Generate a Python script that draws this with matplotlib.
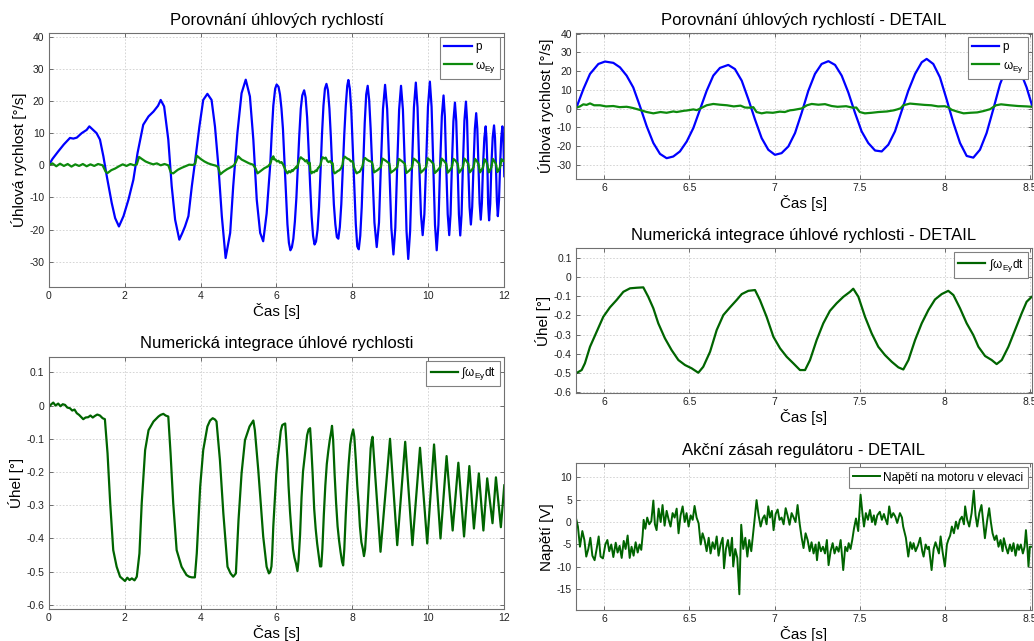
import numpy as np
import matplotlib
matplotlib.use("Agg")
import matplotlib.pyplot as plt
from matplotlib.ticker import FuncFormatter

plt.rcParams['font.family'] = ['Liberation Sans', 'DejaVu Sans']
plt.rcParams['mathtext.fontset'] = 'custom'
plt.rcParams['mathtext.rm'] = 'Liberation Sans'
plt.rcParams['mathtext.it'] = 'Liberation Sans:italic'
plt.rcParams['axes.unicode_minus'] = False

# ---- data ----
# p [deg/s]
p_early = [(0, 0), (0.1, 2.0), (0.25, 4.3), (0.4, 6.5), (0.56, 8.5), (0.65, 8.3), (0.74, 8.6), (0.87, 10.0),
           (1.0, 11.0), (1.07, 12.1), (1.15, 11.2), (1.26, 10.0), (1.35, 8.0), (1.44, 2.8), (1.53, -3.4),
           (1.66, -11.7), (1.75, -16.4), (1.85, -19.0), (1.97, -15.8), (2.10, -10.7), (2.23, -4.5), (2.34, 3.8),
           (2.49, 12.6), (2.63, 15.2), (2.76, 16.7), (2.88, 18.5), (2.95, 20.3), (3.04, 18.3), (3.15, 8.0),
           (3.24, -6.5), (3.33, -16.9), (3.44, -23.1), (3.52, -21.0), (3.59, -19.0), (3.68, -15.8), (3.77, -6.5),
           (3.85, 0.7), (3.97, 12.1), (4.07, 20.3), (4.18, 22.2), (4.29, 20.3), (4.38, 12.0), (4.47, -0.3),
           (4.56, -15.8), (4.66, -28.8), (4.78, -21.0), (4.86, -6.5), (4.97, 10.0), (5.08, 22.4), (5.19, 26.6),
           (5.30, 21.4), (5.39, 8.0), (5.48, -10.7), (5.57, -21.0), (5.65, -23.6), (5.74, -15.0)]
p_detail = [(5.834, 0), (5.877, 10.4), (5.916, 18.5), (5.965, 23.8), (6.004, 25.1), (6.053, 24.4), (6.092, 22.0),
            (6.131, 17.6), (6.17, 11.3), (6.209, 1.4), (6.249, -9.4), (6.288, -18.3), (6.327, -24.1), (6.366, -26.4),
            (6.405, -25.5), (6.444, -22.8), (6.484, -17.5), (6.523, -10.3), (6.562, -0.4), (6.601, 9.5), (6.64, 17.6),
            (6.679, 21.7), (6.728, 23.3), (6.767, 21.1), (6.807, 14.9), (6.846, 5.0), (6.885, -5.8), (6.924, -15.7),
            (6.963, -21.9), (7.002, -24.6), (7.041, -23.7), (7.081, -20.1), (7.12, -13.0), (7.159, -2.2), (7.198, 9.5),
            (7.237, 18.5), (7.276, 23.8), (7.316, 25.3), (7.355, 23.3), (7.394, 17.6), (7.433, 8.6), (7.472, -2.2),
            (7.511, -12.1), (7.55, -18.3), (7.59, -22.3), (7.629, -22.8), (7.668, -19.2), (7.707, -12.1), (7.746, -1.3),
            (7.785, 9.5), (7.825, 18.5), (7.864, 24.7), (7.893, 26.5), (7.932, 23.8), (7.971, 16.7), (8.01, 5.0),
            (8.05, -7.6), (8.089, -18.3), (8.128, -25.2), (8.167, -26.1), (8.206, -21.9), (8.245, -13.0), (8.284, -0.4),
            (8.324, 13.1), (8.363, 22.0), (8.402, 24.7), (8.441, 20.3), (8.48, 11.3), (8.51, 2.3)]
p_late = [(8.52, 0), (8.58, -17.8), (8.64, -25.4), (8.70, -17.8), (8.75, 0), (8.805, 17.5), (8.86, 25.0), (8.915, 17.5),
          (8.97, 0), (9.025, -19.4), (9.08, -27.7), (9.13, -19.4), (9.18, 0), (9.23, 17.3), (9.28, 24.7), (9.33, 17.3),
          (9.38, 0), (9.425, -20.4), (9.47, -29.1), (9.52, -20.4), (9.57, 0), (9.62, 18.0), (9.67, 25.7), (9.715, 18.0),
          (9.76, 0), (9.805, -15.2), (9.85, -21.7), (9.895, -15.2), (9.94, 0), (9.99, 18.2), (10.04, 26.0),
          (10.085, 18.2), (10.13, 0), (10.175, -18.5), (10.22, -26.4), (10.265, -18.5), (10.31, 0), (10.355, 15.2),
          (10.40, 21.7), (10.435, 15.2), (10.47, 0), (10.51, -15.2), (10.55, -21.7), (10.585, -15.2), (10.62, 0),
          (10.66, 13.7), (10.70, 19.5), (10.735, 13.7), (10.77, 0), (10.805, -15.3), (10.84, -21.8), (10.875, -15.3),
          (10.91, 0), (10.95, 13.9), (10.99, 19.8), (11.02, 13.9), (11.05, 0), (11.085, -12.9), (11.12, -18.4),
          (11.155, -12.9), (11.19, 0), (11.225, 11.3), (11.26, 16.2), (11.29, 11.3), (11.32, 0), (11.35, -11.8),
          (11.38, -16.9), (11.41, -11.8), (11.44, 0), (11.475, 8.5), (11.51, 12.1), (11.53, 8.5), (11.555, 0),
          (11.575, -12.0), (11.60, -17.1), (11.63, -12.0), (11.66, 0), (11.695, 8.7), (11.73, 12.4), (11.755, 8.7),
          (11.78, 0), (11.805, -11.0), (11.83, -15.8), (11.86, -11.0), (11.89, 0), (11.92, 8.5), (11.95, 12.1),
          (11.975, 8.0), (12.0, -3.4)]

# omega_Ey [deg/s]
w_early = [(0, 0), (0.1, 0.6), (0.2, -0.3), (0.3, 0.5), (0.4, -0.2), (0.5, 0.4), (0.6, -0.4), (0.7, 0.3), (0.8, -0.2),
           (0.9, 0.4), (1.0, -0.3), (1.1, 0.3), (1.2, -0.2), (1.3, 0.4), (1.42, 0), (1.5, -2.0), (1.55, -2.4),
           (1.65, -1.5), (1.75, -1.0), (1.85, -0.3), (1.95, 0.3), (2.05, -0.2), (2.15, 0.4), (2.25, 0), (2.32, 0.3),
           (2.38, 2.6), (2.45, 2.0), (2.55, 1.2), (2.65, 0.7), (2.75, 0.3), (2.85, 0.6), (2.95, 0), (3.05, 0.4),
           (3.15, 0), (3.22, -2.3), (3.28, -2.5), (3.4, -1.4), (3.5, -0.8), (3.6, -0.3), (3.7, 0.2), (3.8, 0.1),
           (3.86, 0.5), (3.9, 3.0), (4.0, 2.0), (4.1, 1.2), (4.2, 0.6), (4.3, 0.2), (4.4, -0.1), (4.46, -0.5),
           (4.52, -2.8), (4.6, -2.0), (4.7, -1.2), (4.8, -0.6), (4.88, 0), (4.93, 1.0), (4.99, 2.8), (5.08, 1.8),
           (5.18, 1.2), (5.28, 0.6), (5.38, 0.2), (5.45, -1.0), (5.5, -2.5), (5.58, -1.8), (5.68, -0.9), (5.78, -0.3)]
w_detail = [(5.834, 0.5), (5.857, 1.2), (5.877, 2.3), (5.896, 2.0), (5.916, 2.8), (5.94, 1.8), (5.975, 1.8),
            (6.01, 1.2), (6.053, 1.4), (6.09, 0.8), (6.131, 1.0), (6.15, 0.7), (6.17, 0.3), (6.209, -0.7),
            (6.249, -1.8), (6.288, -2.5), (6.33, -1.8), (6.366, -2.2), (6.405, -1.5), (6.425, -1.8), (6.47, -1.1),
            (6.484, -1.0), (6.523, -0.4), (6.543, -0.8), (6.562, 0.0), (6.601, 1.8), (6.64, 2.5), (6.679, 2.1),
            (6.72, 1.8), (6.76, 1.2), (6.8, 1.6), (6.826, 0.6), (6.855, 0.5), (6.875, 0.8), (6.894, -1.8),
            (6.924, -2.5), (6.953, -2.0), (6.99, -2.2), (7.03, -1.6), (7.06, -1.8), (7.09, -0.9), (7.11, -0.7),
            (7.14, -0.2), (7.159, 0.1), (7.19, 1.8), (7.218, 2.5), (7.257, 2.1), (7.296, 2.4), (7.335, 1.4),
            (7.37, 1.0), (7.42, 1.3), (7.46, 0.5), (7.48, 0.6), (7.50, -1.8), (7.53, -2.5), (7.57, -2.2),
            (7.61, -1.8), (7.66, -1.5), (7.70, -0.9), (7.72, -0.4), (7.74, 0.2), (7.756, 1.8), (7.795, 2.7),
            (7.84, 2.3), (7.88, 2.0), (7.92, 1.8), (7.96, 1.2), (8.0, 1.3), (8.02, 0.7), (8.04, -0.6), (8.07, -1.5),
            (8.11, -2.5), (8.15, -2.2), (8.19, -2.0), (8.226, -1.3), (8.265, -0.3), (8.30, 1.8), (8.33, 2.3),
            (8.38, 1.8), (8.43, 1.4), (8.48, 1.2), (8.51, 1.0)]
w_late = [(8.53, 0.3), (8.57, -2.2), (8.66, -1.5), (8.75, -0.6), (8.79, 2.1), (8.88, 1.4), (8.97, 0.6), (9.01, -2.3),
          (9.10, -1.5), (9.18, -0.6), (9.22, 2.0), (9.30, 1.3), (9.38, 0.5), (9.42, -2.4), (9.50, -1.6), (9.57, -0.7),
          (9.61, 2.1), (9.69, 1.4), (9.76, 0.5), (9.80, -2.3), (9.87, -1.5), (9.94, -0.6), (9.98, 2.2), (10.06, 1.4),
          (10.13, 0.5), (10.17, -2.4), (10.24, -1.6), (10.31, -0.6), (10.35, 2.1), (10.41, 1.4), (10.47, 0.5),
          (10.51, -2.3), (10.57, -1.5), (10.62, -0.6), (10.66, 2.0), (10.72, 1.4), (10.77, 0.5), (10.81, -2.3),
          (10.86, -1.5), (10.91, -0.6), (10.95, 2.1), (11.00, 1.4), (11.05, 0.5), (11.09, -2.2), (11.14, -1.5),
          (11.19, -0.6), (11.23, 2.0), (11.28, 1.3), (11.32, 0.4), (11.36, -2.2), (11.40, -1.5), (11.44, -0.6),
          (11.48, 1.9), (11.52, 1.3), (11.55, 0.4), (11.59, -2.2), (11.63, -1.4), (11.66, -0.6), (11.70, 2.0),
          (11.74, 1.3), (11.78, 0.4), (11.82, -2.1), (11.86, -1.4), (11.89, -0.5), (11.93, 1.9), (11.97, 1.4),
          (12.0, 1.2)]

# integral of omega_Ey [deg]
int_early = [(0, -0.005), (0.06, 0.003), (0.12, 0.009), (0.18, 0.0), (0.25, 0.006), (0.31, -0.002), (0.37, 0.004),
             (0.43, 0.002), (0.49, -0.006), (0.56, -0.008), (0.62, -0.015), (0.68, -0.012), (0.74, -0.023),
             (0.80, -0.028), (0.86, -0.035), (0.91, -0.041), (0.97, -0.036), (1.04, -0.035), (1.10, -0.030),
             (1.16, -0.036), (1.22, -0.031), (1.28, -0.027), (1.35, -0.030), (1.42, -0.038), (1.48, -0.041),
             (1.55, -0.144), (1.62, -0.294), (1.70, -0.435), (1.79, -0.485), (1.88, -0.515), (1.95, -0.522),
             (2.01, -0.528), (2.07, -0.518), (2.13, -0.525), (2.19, -0.520), (2.26, -0.526), (2.32, -0.515),
             (2.39, -0.445), (2.45, -0.294), (2.54, -0.134), (2.63, -0.074), (2.70, -0.060), (2.76, -0.048),
             (2.83, -0.040), (2.89, -0.033), (2.95, -0.028), (3.02, -0.025), (3.08, -0.030), (3.15, -0.033),
             (3.21, -0.144), (3.28, -0.294), (3.37, -0.435), (3.50, -0.485), (3.63, -0.510), (3.70, -0.515),
             (3.77, -0.517), (3.85, -0.517), (3.90, -0.445), (3.99, -0.244), (4.07, -0.134), (4.18, -0.063),
             (4.25, -0.045), (4.32, -0.038), (4.38, -0.042), (4.42, -0.048), (4.51, -0.164), (4.60, -0.324),
             (4.71, -0.485), (4.79, -0.505), (4.86, -0.515), (4.93, -0.505), (5.00, -0.344), (5.08, -0.204),
             (5.17, -0.104), (5.29, -0.063), (5.39, -0.045), (5.43, -0.074), (5.52, -0.194), (5.65, -0.394),
             (5.74, -0.485), (5.80, -0.505)]
int_detail = [(5.834, -0.501), (5.867, -0.484), (5.886, -0.449), (5.916, -0.363), (5.955, -0.285), (5.994, -0.207),
              (6.033, -0.158), (6.072, -0.12), (6.112, -0.077), (6.151, -0.059), (6.19, -0.056), (6.229, -0.054),
              (6.258, -0.103), (6.288, -0.163), (6.317, -0.241), (6.356, -0.319), (6.395, -0.38), (6.435, -0.432),
              (6.474, -0.458), (6.513, -0.475), (6.552, -0.498), (6.581, -0.467), (6.621, -0.389), (6.66, -0.276),
              (6.699, -0.198), (6.738, -0.158), (6.777, -0.12), (6.807, -0.089), (6.846, -0.072), (6.885, -0.068),
              (6.914, -0.12), (6.953, -0.207), (6.993, -0.311), (7.032, -0.371), (7.071, -0.415), (7.11, -0.449),
              (7.149, -0.484), (7.179, -0.484), (7.208, -0.432), (7.247, -0.328), (7.286, -0.241), (7.325, -0.176),
              (7.364, -0.137), (7.404, -0.103), (7.443, -0.077), (7.462, -0.061), (7.492, -0.103), (7.531, -0.207),
              (7.57, -0.293), (7.609, -0.363), (7.648, -0.406), (7.688, -0.441), (7.727, -0.47), (7.756, -0.481),
              (7.786, -0.432), (7.825, -0.328), (7.864, -0.241), (7.903, -0.172), (7.942, -0.117), (7.981, -0.089),
              (8.02, -0.072), (8.05, -0.094), (8.089, -0.163), (8.128, -0.241), (8.167, -0.302), (8.197, -0.363),
              (8.236, -0.411), (8.275, -0.432), (8.304, -0.453), (8.334, -0.432), (8.373, -0.363), (8.412, -0.276),
              (8.451, -0.189), (8.48, -0.129), (8.51, -0.103)]
int_late = [(8.53, -0.094), (8.74, -0.44), (8.99, -0.10), (9.18, -0.42), (9.39, -0.109), (9.58, -0.42),
            (9.78, -0.127), (9.97, -0.415), (10.15, -0.117), (10.32, -0.40), (10.48, -0.152), (10.64, -0.376),
            (10.79, -0.172), (10.94, -0.394), (11.08, -0.182), (11.20, -0.37), (11.33, -0.204), (11.45, -0.376),
            (11.55, -0.219), (11.69, -0.354), (11.78, -0.216), (11.91, -0.366), (12.0, -0.24)]

# motor voltage [V], detail window only
u_pts = [(5.834, 0.8), (5.845, -1.0), (5.857, -5.5), (5.871, -2.0), (5.883, -4.0), (5.894, -7.7), (5.906, -6.0),
         (5.918, -3.5), (5.930, -7.5), (5.943, -8.5), (5.955, -6.0), (5.967, -3.2), (5.978, -7.7), (5.992, -8.1),
         (6.006, -5.0), (6.018, -4.0), (6.029, -6.5), (6.041, -5.0), (6.053, -7.8), (6.067, -4.6), (6.078, -6.8),
         (6.090, -5.3), (6.102, -8.0), (6.114, -4.2), (6.125, -6.0), (6.137, -3.0), (6.149, -8.0), (6.160, -5.5),
         (6.172, -7.5), (6.184, -4.5), (6.196, -6.8), (6.207, -5.0), (6.217, -6.2),
         (6.225, -3.0), (6.231, 0.5), (6.241, -1.5), (6.252, 1.0), (6.264, -0.5), (6.276, 0.2), (6.288, 4.8),
         (6.297, -0.5), (6.307, -1.8), (6.319, 3.0), (6.331, 0.0), (6.342, 3.8), (6.354, -0.8), (6.366, 2.5),
         (6.378, 0.5), (6.389, -1.0), (6.401, 2.0), (6.413, 1.0), (6.425, 3.0), (6.436, -2.5), (6.448, 1.5),
         (6.460, 3.5), (6.472, 0.0), (6.483, 2.0), (6.495, -1.0), (6.507, 1.5), (6.519, 0.5), (6.530, 3.6),
         (6.542, 1.0), (6.554, -0.3),
         (6.566, -5.0), (6.577, -2.5), (6.589, -4.0), (6.601, -6.5), (6.613, -3.5), (6.624, -7.0), (6.636, -4.5),
         (6.648, -6.0), (6.660, -3.2), (6.671, -7.5), (6.683, -5.0), (6.695, -3.5), (6.703, -10.3), (6.714, -6.0),
         (6.726, -4.0), (6.738, -7.5), (6.750, -3.5), (6.757, -9.9), (6.769, -6.0), (6.781, -8.0), (6.793, -16.1),
         (6.804, -0.6), (6.816, -6.0), (6.828, -3.5), (6.840, -7.7), (6.851, -4.0), (6.863, -6.5), (6.873, -3.0),
         (6.881, 0.0), (6.894, 4.9), (6.906, 1.5), (6.918, -1.0), (6.930, 0.8), (6.941, 1.5), (6.953, -0.5),
         (6.963, 3.5), (6.973, 1.0), (6.984, 2.5), (6.994, -1.8), (7.006, 1.8), (7.018, 2.8), (7.029, 0.5),
         (7.041, 1.0), (7.053, -0.5), (7.065, 3.1), (7.076, 1.5), (7.088, -0.6), (7.100, 2.0), (7.112, 1.0),
         (7.123, 0.0), (7.135, 3.8), (7.147, -0.3),
         (7.159, -3.5), (7.170, -5.8), (7.182, -2.5), (7.194, -4.0), (7.206, -6.5), (7.217, -4.5), (7.229, -7.0),
         (7.241, -5.0), (7.249, -8.5), (7.260, -4.5), (7.272, -6.5), (7.284, -5.5), (7.296, -7.0), (7.307, -4.0),
         (7.317, -9.6), (7.329, -6.5), (7.341, -4.7), (7.352, -7.0), (7.364, -5.5), (7.376, -6.6), (7.388, -4.0),
         (7.403, -10.7), (7.415, -5.5), (7.427, -6.5), (7.435, -4.7), (7.446, -6.0), (7.456, -4.0),
         (7.466, -1.5), (7.478, 0.8), (7.491, -2.0), (7.505, 6.1), (7.517, 1.5), (7.525, -1.0), (7.536, 2.0),
         (7.548, 0.5), (7.560, 2.7), (7.572, 0.0), (7.583, 1.5), (7.591, -0.6), (7.603, 1.5), (7.618, 2.3),
         (7.630, 0.5), (7.642, 1.8), (7.650, 0.8), (7.662, -0.5), (7.673, 3.5), (7.685, 1.0), (7.697, 2.0),
         (7.709, 1.2), (7.720, -0.2), (7.736, 2.0), (7.748, 1.0), (7.755, -1.0),
         (7.771, -3.5), (7.785, -7.7), (7.797, -4.5), (7.808, -6.0), (7.816, -4.7), (7.828, -6.5), (7.843, -5.1),
         (7.855, -3.5), (7.867, -6.5), (7.875, -7.7), (7.887, -5.0), (7.898, -6.0), (7.906, -5.5), (7.922, -10.7),
         (7.934, -6.0), (7.945, -4.5), (7.953, -5.5), (7.965, -7.0), (7.975, -3.2), (7.986, -6.5), (8.000, -9.9),
         (8.012, -5.0), (8.020, -4.0),
         (8.031, -3.0), (8.041, -1.0), (8.053, -2.5), (8.065, 0.1), (8.076, -1.5), (8.088, 0.5), (8.100, 1.2),
         (8.112, -0.5), (8.119, 3.5), (8.131, 0.5), (8.143, -1.0), (8.157, 2.0), (8.170, 7.0), (8.180, 1.5),
         (8.190, -1.0), (8.202, 2.0), (8.215, 3.8), (8.225, 0.0), (8.235, -3.6), (8.249, 0.5), (8.260, 3.1),
         (8.270, 0.0), (8.280, -2.5),
         (8.292, -4.0), (8.303, -3.0), (8.315, -5.5), (8.327, -4.0), (8.339, -6.5), (8.346, -3.6), (8.358, -5.5),
         (8.370, -7.0), (8.382, -5.0), (8.393, -6.5), (8.403, -4.7), (8.415, -7.5), (8.427, -5.0), (8.435, -6.2),
         (8.446, -5.0), (8.458, -7.0), (8.468, -5.5), (8.476, -1.8), (8.485, -6.0), (8.491, -9.9), (8.499, -5.5),
         (8.51, -5.5)]

t_p, p = np.array(p_early + p_detail + p_late).T
t_w, w = np.array(w_early + w_detail + w_late).T
t_i, ang = np.array(int_early + int_detail + int_late).T
t_u, u = np.array(u_pts).T

BLUE = '#0000ff'
GREEN = '#0d8a0d'
DKGREEN = '#006400'

lbl_w = r'$\mathrm{ω}_{\mathrm{Ey}}$'
lbl_int = r'$\mathrm{∫ω}_{\mathrm{Ey}}\mathrm{dt}$'

fmt = FuncFormatter(lambda v, pos: '%g' % (round(v, 6) + 0.0))


def style(ax, xlim, ylim, xticks, yticks, title, ylabel):
    ax.set_xlim(*xlim)
    ax.set_ylim(*ylim)
    ax.set_xticks(xticks)
    ax.set_yticks(yticks)
    ax.xaxis.set_major_formatter(fmt)
    ax.yaxis.set_major_formatter(fmt)
    ax.tick_params(direction='in', top=True, right=True, length=3, width=0.6,
                   labelsize=7.5, pad=3, colors='#555555', labelcolor='#222222')
    ax.grid(True, linestyle=(0, (2, 2)), linewidth=0.6, color='#cfcfcf')
    for s in ax.spines.values():
        s.set_color('#707070')
        s.set_linewidth(0.8)
    ax.set_title(title, fontsize=12, pad=6)
    ax.set_xlabel('Čas [s]', fontsize=11, labelpad=1)
    ax.set_ylabel(ylabel, fontsize=11, labelpad=2)


def legend(ax):
    lg = ax.legend(loc='upper right', fontsize=8.5, fancybox=False, framealpha=1,
                   edgecolor='#808080', handlelength=2.3, handletextpad=0.3,
                   borderpad=0.35, labelspacing=0.45, borderaxespad=0.35)
    lg.get_frame().set_linewidth(0.8)


fig = plt.figure(figsize=(10.34, 6.41), dpi=100)

ax1 = fig.add_axes([0.0471, 0.5523, 0.4406, 0.3962])
ax1.plot(t_p, p, color=BLUE, lw=1.6, label='p')
ax1.plot(t_w, w, color=GREEN, lw=1.6, label=lbl_w)
style(ax1, (0, 12), (-37.8, 41.1), np.arange(0, 13, 2), np.arange(-30, 41, 10),
      'Porovnání úhlových rychlostí', 'Úhlová rychlost [°/s]')
legend(ax1)

ax2 = fig.add_axes([0.5571, 0.7207, 0.4407, 0.2278])
ax2.plot(t_p, p, color=BLUE, lw=1.6, label='p')
ax2.plot(t_w, w, color=GREEN, lw=1.6, label=lbl_w)
style(ax2, (5.834, 8.51), (-37.5, 40.3), np.arange(6, 8.6, 0.5), np.arange(-30, 41, 10),
      'Porovnání úhlových rychlostí - DETAIL', 'Úhlová rychlost [°/s]')
legend(ax2)

ax3 = fig.add_axes([0.0471, 0.0495, 0.4406, 0.3940])
ax3.plot(t_i, ang, color=DKGREEN, lw=1.6, label=lbl_int)
style(ax3, (0, 12), (-0.613, 0.147), np.arange(0, 13, 2), np.arange(-0.6, 0.11, 0.1),
      'Numerická integrace úhlové rychlosti', 'Úhel [°]')
legend(ax3)

ax4 = fig.add_axes([0.5571, 0.3864, 0.4407, 0.2262])
ax4.plot(t_i, ang, color=DKGREEN, lw=1.6, label=lbl_int)
style(ax4, (5.834, 8.51), (-0.605, 0.149), np.arange(6, 8.6, 0.5), np.arange(-0.6, 0.11, 0.1),
      'Numerická integrace úhlové rychlosti - DETAIL', 'Úhel [°]')
legend(ax4)

ax5 = fig.add_axes([0.5571, 0.0484, 0.4407, 0.2288])
ax5.plot(t_u, u, color=DKGREEN, lw=1.4, label='Napětí na motoru v elevaci')
style(ax5, (5.834, 8.51), (-19.6, 13.1), np.arange(6, 8.6, 0.5), np.arange(-15, 11, 5),
      'Akční zásah regulátoru - DETAIL', 'Napětí [V]')
legend(ax5)

fig.savefig('out.png', dpi=100)
